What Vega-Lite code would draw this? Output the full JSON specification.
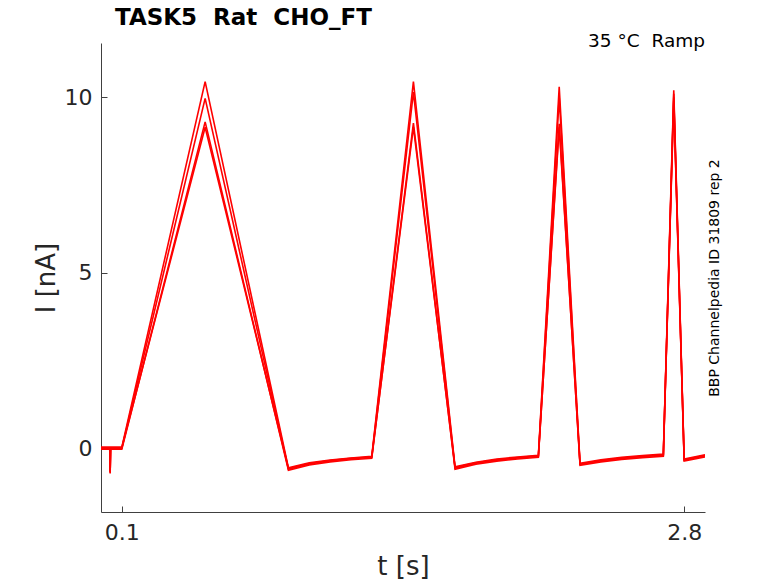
{
  "$schema": "https://vega.github.io/schema/vega-lite/v6.json",
  "autosize": "none",
  "width": 604,
  "height": 469,
  "padding": {"left": 101, "top": 43, "right": 73, "bottom": 71},
  "background": "white",
  "title": {
    "text": "TASK5 \u00a0Rat \u00a0CHO_FT",
    "anchor": "start",
    "frame": "group",
    "dx": 14,
    "offset": 2,
    "fontSize": 23,
    "fontWeight": "bold",
    "font": "DejaVu Sans",
    "color": "black"
  },
  "datasets": {
    "sweeps": [
      {"sweep": 1, "t": 0.0, "i": 0.03}, {"sweep": 1, "t": 0.042, "i": 0.03}, {"sweep": 1, "t": 0.044, "i": -0.72}, {"sweep": 1, "t": 0.046, "i": 0.03}, {"sweep": 1, "t": 0.1, "i": 0.03},
      {"sweep": 1, "t": 0.5, "i": 10.45}, {"sweep": 1, "t": 0.9, "i": -0.56}, {"sweep": 1, "t": 1.0, "i": -0.42}, {"sweep": 1, "t": 1.1, "i": -0.34}, {"sweep": 1, "t": 1.2, "i": -0.28}, {"sweep": 1, "t": 1.3, "i": -0.23},
      {"sweep": 1, "t": 1.5, "i": 10.45}, {"sweep": 1, "t": 1.7, "i": -0.53}, {"sweep": 1, "t": 1.8, "i": -0.4}, {"sweep": 1, "t": 1.9, "i": -0.31}, {"sweep": 1, "t": 2.0, "i": -0.25}, {"sweep": 1, "t": 2.1, "i": -0.2},
      {"sweep": 1, "t": 2.2, "i": 10.3}, {"sweep": 1, "t": 2.3, "i": -0.43}, {"sweep": 1, "t": 2.4, "i": -0.33}, {"sweep": 1, "t": 2.5, "i": -0.26}, {"sweep": 1, "t": 2.6, "i": -0.21}, {"sweep": 1, "t": 2.7, "i": -0.17},
      {"sweep": 1, "t": 2.75, "i": 10.2}, {"sweep": 1, "t": 2.8, "i": -0.31}, {"sweep": 1, "t": 2.9, "i": -0.19},

      {"sweep": 2, "t": 0.0, "i": 0.0}, {"sweep": 2, "t": 0.042, "i": 0.0}, {"sweep": 2, "t": 0.044, "i": -0.68}, {"sweep": 2, "t": 0.046, "i": 0.0}, {"sweep": 2, "t": 0.1, "i": 0.0},
      {"sweep": 2, "t": 0.5, "i": 9.97}, {"sweep": 2, "t": 0.9, "i": -0.6}, {"sweep": 2, "t": 1.0, "i": -0.45}, {"sweep": 2, "t": 1.1, "i": -0.36}, {"sweep": 2, "t": 1.2, "i": -0.3}, {"sweep": 2, "t": 1.3, "i": -0.26},
      {"sweep": 2, "t": 1.5, "i": 10.15}, {"sweep": 2, "t": 1.7, "i": -0.57}, {"sweep": 2, "t": 1.8, "i": -0.43}, {"sweep": 2, "t": 1.9, "i": -0.34}, {"sweep": 2, "t": 2.0, "i": -0.28}, {"sweep": 2, "t": 2.1, "i": -0.23},
      {"sweep": 2, "t": 2.2, "i": 10.0}, {"sweep": 2, "t": 2.3, "i": -0.46}, {"sweep": 2, "t": 2.4, "i": -0.36}, {"sweep": 2, "t": 2.5, "i": -0.29}, {"sweep": 2, "t": 2.6, "i": -0.24}, {"sweep": 2, "t": 2.7, "i": -0.2},
      {"sweep": 2, "t": 2.75, "i": 10.1}, {"sweep": 2, "t": 2.8, "i": -0.34}, {"sweep": 2, "t": 2.9, "i": -0.22},

      {"sweep": 3, "t": 0.0, "i": -0.03}, {"sweep": 3, "t": 0.042, "i": -0.03}, {"sweep": 3, "t": 0.044, "i": -0.7}, {"sweep": 3, "t": 0.046, "i": -0.03}, {"sweep": 3, "t": 0.1, "i": -0.03},
      {"sweep": 3, "t": 0.5, "i": 9.3}, {"sweep": 3, "t": 0.9, "i": -0.63}, {"sweep": 3, "t": 1.0, "i": -0.48}, {"sweep": 3, "t": 1.1, "i": -0.39}, {"sweep": 3, "t": 1.2, "i": -0.33}, {"sweep": 3, "t": 1.3, "i": -0.29},
      {"sweep": 3, "t": 1.5, "i": 9.27}, {"sweep": 3, "t": 1.7, "i": -0.6}, {"sweep": 3, "t": 1.8, "i": -0.46}, {"sweep": 3, "t": 1.9, "i": -0.37}, {"sweep": 3, "t": 2.0, "i": -0.31}, {"sweep": 3, "t": 2.1, "i": -0.26},
      {"sweep": 3, "t": 2.2, "i": 9.25}, {"sweep": 3, "t": 2.3, "i": -0.49}, {"sweep": 3, "t": 2.4, "i": -0.39}, {"sweep": 3, "t": 2.5, "i": -0.32}, {"sweep": 3, "t": 2.6, "i": -0.27}, {"sweep": 3, "t": 2.7, "i": -0.23},
      {"sweep": 3, "t": 2.75, "i": 10.0}, {"sweep": 3, "t": 2.8, "i": -0.37}, {"sweep": 3, "t": 2.9, "i": -0.25},

      {"sweep": 4, "t": 0.0, "i": 0.01}, {"sweep": 4, "t": 0.042, "i": 0.01}, {"sweep": 4, "t": 0.044, "i": -0.66}, {"sweep": 4, "t": 0.046, "i": 0.01}, {"sweep": 4, "t": 0.1, "i": 0.01},
      {"sweep": 4, "t": 0.5, "i": 9.15}, {"sweep": 4, "t": 0.9, "i": -0.58}, {"sweep": 4, "t": 1.0, "i": -0.44}, {"sweep": 4, "t": 1.1, "i": -0.35}, {"sweep": 4, "t": 1.2, "i": -0.29}, {"sweep": 4, "t": 1.3, "i": -0.25},
      {"sweep": 4, "t": 1.5, "i": 9.15}, {"sweep": 4, "t": 1.7, "i": -0.55}, {"sweep": 4, "t": 1.8, "i": -0.42}, {"sweep": 4, "t": 1.9, "i": -0.33}, {"sweep": 4, "t": 2.0, "i": -0.27}, {"sweep": 4, "t": 2.1, "i": -0.22},
      {"sweep": 4, "t": 2.2, "i": 9.15}, {"sweep": 4, "t": 2.3, "i": -0.45}, {"sweep": 4, "t": 2.4, "i": -0.35}, {"sweep": 4, "t": 2.5, "i": -0.28}, {"sweep": 4, "t": 2.6, "i": -0.23}, {"sweep": 4, "t": 2.7, "i": -0.19},
      {"sweep": 4, "t": 2.75, "i": 9.9}, {"sweep": 4, "t": 2.8, "i": -0.33}, {"sweep": 4, "t": 2.9, "i": -0.21}
    ],
    "notes": [
      {"t": 2.9, "i": 11.44, "label": "35 °C \u00a0Ramp"}
    ]
  },
  "layer": [
    {
      "data": {"name": "sweeps"},
      "mark": {"type": "line", "color": "#ff0000", "strokeWidth": 1.6, "clip": true},
      "encoding": {
        "x": {
          "field": "t",
          "type": "quantitative",
          "title": "t [s]",
          "scale": {"domain": [0, 2.9], "nice": false, "zero": false},
          "axis": {"values": [0.1, 2.8], "format": ".1f"}
        },
        "y": {
          "field": "i",
          "type": "quantitative",
          "title": "I [nA]",
          "scale": {"domain": [-1.82, 11.55], "nice": false, "zero": false},
          "axis": {"values": [0, 5, 10]}
        },
        "detail": {"field": "sweep", "type": "nominal"},
        "order": {"field": "t", "type": "quantitative"}
      }
    },
    {
      "data": {"name": "notes"},
      "mark": {"type": "text", "align": "right", "baseline": "alphabetic", "fontSize": 18.5, "font": "DejaVu Sans", "color": "black"},
      "encoding": {
        "x": {"field": "t", "type": "quantitative"},
        "y": {
          "field": "i",
          "type": "quantitative",
          "axis": {
            "orient": "right",
            "title": "BBP Channelpedia ID 31809 rep 2",
            "titleFontSize": 14,
            "titleFontWeight": "normal",
            "titleColor": "black",
            "titleAngle": 270,
            "titlePadding": 16,
            "labels": false,
            "ticks": false,
            "domain": false,
            "grid": false
          }
        },
        "text": {"field": "label"}
      }
    }
  ],
  "resolve": {"axis": {"y": "independent"}},
  "config": {
    "font": "DejaVu Sans",
    "view": {"stroke": null},
    "axis": {
      "grid": false,
      "domainColor": "#404040",
      "domainWidth": 1,
      "tickColor": "#404040",
      "tickSize": -6,
      "labelFontSize": 22,
      "labelColor": "#262626",
      "titleFontSize": 26,
      "titleFontWeight": "normal",
      "titleColor": "#262626"
    },
    "axisX": {"labelPadding": 16, "titlePadding": 10},
    "axisLeft": {"labelPadding": 15, "titlePadding": 5}
  }
}
